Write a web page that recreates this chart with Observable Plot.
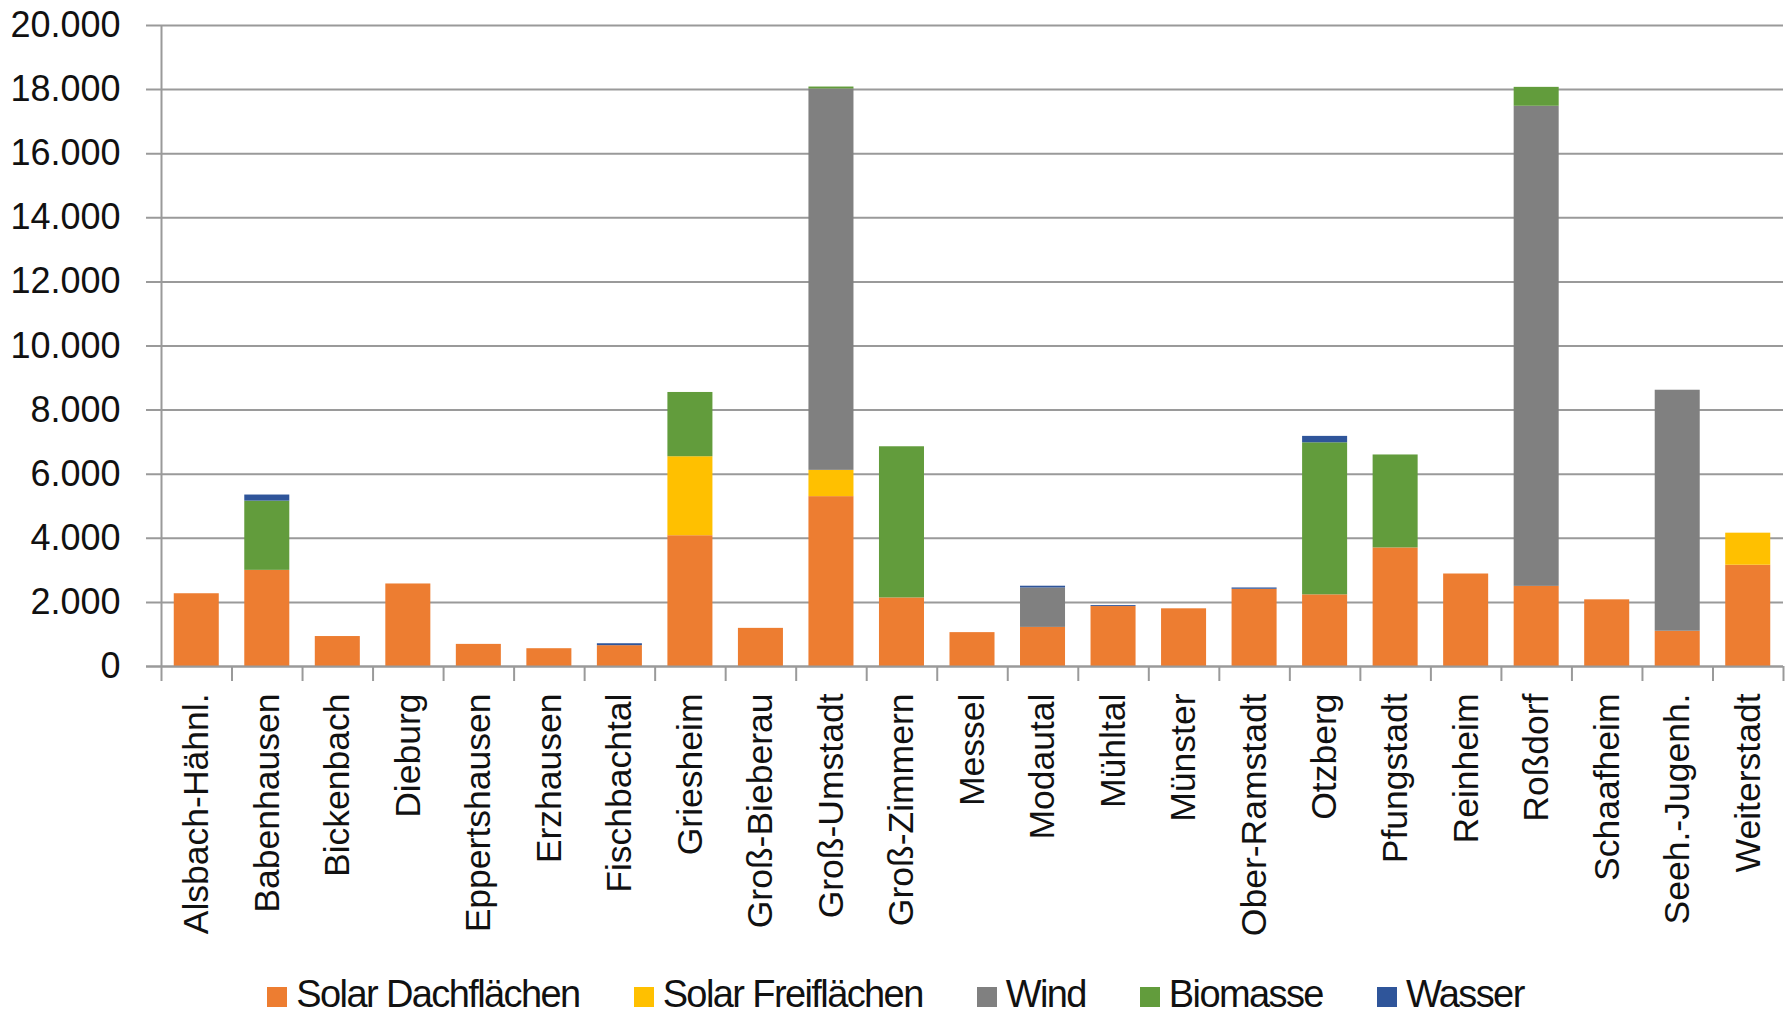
<!DOCTYPE html>
<html>
<head>
<meta charset="utf-8">
<script src="https://cdn.jsdelivr.net/npm/d3@7"></script>
<script src="https://cdn.jsdelivr.net/npm/@observablehq/plot@0.6"></script>
<style>
  body { margin: 0; background: #fff; }
  #chart { position: relative; width: 1791px; height: 1016px; background: #fff; overflow: hidden; }
  #legend {
    position: absolute; left: 0; top: 974px; width: 1791px; height: 40px;
    display: flex; justify-content: center; gap: 54px;
    font-family: "Liberation Sans", Arial, sans-serif; font-size: 38px; line-height: 40px;
    letter-spacing: -1.6px; color: #111;
  }
  .item { white-space: nowrap; }
  .sw { display: inline-block; width: 20px; height: 20px; margin-right: 9px; vertical-align: baseline; }
</style>
</head>
<body>
<div id="chart"></div>
<script>
// Municipalities of the district
const gemeinden = ["Alsbach-Hähnl.", "Babenhausen", "Bickenbach", "Dieburg", "Eppertshausen", "Erzhausen",
  "Fischbachtal", "Griesheim", "Groß-Bieberau", "Groß-Umstadt", "Groß-Zimmern", "Messel", "Modautal",
  "Mühltal", "Münster", "Ober-Ramstadt", "Otzberg", "Pfungstadt", "Reinheim", "Roßdorf", "Schaafheim",
  "Seeh.-Jugenh.", "Weiterstadt"];

// Renewable sources, one array per source (same order as gemeinden)
const solarDach = [2270, 3000, 935, 2575, 690, 555, 650, 4080, 1190, 5300, 2140, 1057, 1220, 1870, 1800, 2410, 2236, 3700, 2886, 2500, 2080, 1100, 3160];
const solarFrei = [0, 0, 0, 0, 0, 0, 0, 2465, 0, 820, 0, 0, 0, 0, 0, 0, 0, 0, 0, 0, 0, 0, 1000];
const wind      = [0, 0, 0, 0, 0, 0, 0, 0, 0, 11900, 0, 0, 1230, 0, 0, 0, 0, 0, 0, 14980, 0, 7520, 0];
const biomasse  = [0, 2160, 0, 0, 0, 0, 0, 2005, 0, 60, 4716, 0, 0, 0, 0, 0, 4744, 2900, 0, 590, 0, 0, 0];
const wasser    = [0, 190, 0, 0, 0, 0, 60, 0, 0, 0, 0, 0, 55, 30, 0, 40, 200, 0, 0, 0, 0, 0, 0];

const quellen = ["Solar Dachflächen", "Solar Freiflächen", "Wind", "Biomasse", "Wasser"];
const farben  = ["#ED7D31", "#FFC000", "#808080", "#629C3C", "#2F559A"];
const yTicks  = [0, 2000, 4000, 6000, 8000, 10000, 12000, 14000, 16000, 18000, 20000];

// Long table for stacking: bottom series first
const reihen = [solarDach, solarFrei, wind, biomasse, wasser];
const rows = quellen.flatMap((q, k) =>
  gemeinden.map((g, i) => ({gemeinde: g, quelle: q, wert: reihen[k][i]}))
).filter(d => d.wert > 0);

const W = 1791, H = 950, mL = 161, mR = 8, mT = 25, mB = 284;
const step = (W - mL - mR) / gemeinden.length;
const de = d3.formatLocale({decimal: ",", thousands: ".", grouping: [3], currency: ["", " €"]});
const fmt = de.format(",d");
const grau = "#9a9a9a";

const chart = Plot.plot({
  width: W, height: H,
  marginLeft: mL, marginRight: mR, marginTop: mT, marginBottom: mB,
  style: {fontFamily: '"Liberation Sans", Arial, sans-serif', fontSize: "35px", color: "#111", background: "#fff"},
  x: {domain: gemeinden, padding: 0, round: false, axis: null, label: null},
  y: {domain: [0, 20000], axis: null, label: null},
  color: {domain: quellen, range: farben},
  marks: [
    // horizontal gridlines with small stubs left of the axis
    Plot.ruleY(yTicks, {stroke: grau, strokeWidth: 2, insetLeft: -15}),
    Plot.barY(rows, {x: "gemeinde", y: "wert", fill: "quelle", insetLeft: 12.75, insetRight: 12.75}),
    Plot.ruleY([0], {stroke: grau, strokeWidth: 2, insetLeft: -15}),
    // vertical axis line
    Plot.ruleX([gemeinden[0]], {dx: -step / 2, stroke: grau, strokeWidth: 2}),
    // category separators below the baseline
    Plot.ruleX(gemeinden, {dx: -step / 2, y1: 0, y2: 0, insetBottom: -15, stroke: grau, strokeWidth: 2}),
    Plot.ruleX([gemeinden[gemeinden.length - 1]], {dx: step / 2, y1: 0, y2: 0, insetBottom: -15, stroke: grau, strokeWidth: 2}),
    Plot.axisY(yTicks, {tickSize: 0, tickPadding: 41, tickFormat: fmt, fontSize: 36, label: null}),
    Plot.axisX({tickRotate: -90, tickSize: 0, tickPadding: 27, fontSize: 35.5, label: null})
  ]
});

const container = document.getElementById("chart");
container.appendChild(chart);

// legend below the chart
const legend = document.createElement("div");
legend.id = "legend";
quellen.forEach((q, i) => {
  const item = document.createElement("span");
  item.className = "item";
  const sw = document.createElement("span");
  sw.className = "sw";
  sw.style.background = farben[i];
  item.appendChild(sw);
  item.appendChild(document.createTextNode(q));
  legend.appendChild(item);
});
container.appendChild(legend);
</script>
</body>
</html>
